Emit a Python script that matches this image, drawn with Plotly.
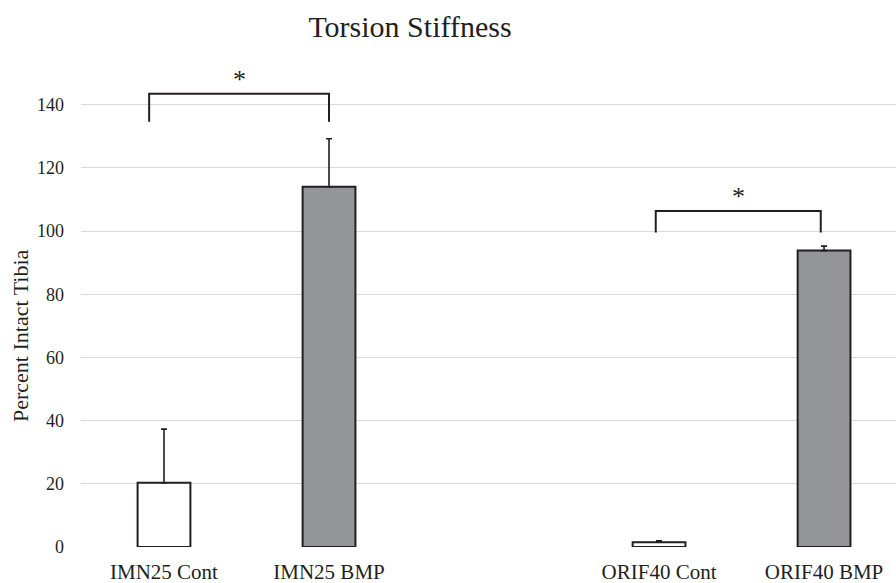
import plotly.graph_objects as go

categories = ["IMN25 Cont", "IMN25 BMP", " ", "ORIF40 Cont", "ORIF40 BMP"]
values = [20.3, 114.0, None, 1.5, 93.8]
err_plus = [17.0, 15.2, None, 0.5, 1.4]
err_minus = [0, 0, None, 0, 0]
bar_colors = ["#ffffff", "#939598", "#ffffff", "#ffffff", "#939598"]

# significance brackets: (x_left, x_right, y_bottom, y_top)
brackets = [(-0.09, 1.0, 134.6, 143.4), (2.98, 3.98, 99.5, 106.3)]
star_labels = ["*", "*"]

FONT = "Liberation Serif, Times New Roman, serif"

fig = go.Figure()
fig.add_trace(go.Bar(
    x=categories, y=values,
    marker=dict(color=bar_colors, line=dict(color="#231f20", width=2)),
    width=0.32,
    error_y=dict(type="data", symmetric=False, array=err_plus, arrayminus=err_minus,
                 color="#231f20", thickness=1.6, width=3),
    cliponaxis=False,
))

for (x0, x1, yb, yt), s in zip(brackets, star_labels):
    fig.add_shape(type="path",
                  path=f"M {x0},{yb} L {x0},{yt} L {x1},{yt} L {x1},{yb}",
                  xref="x", yref="y", line=dict(color="#231f20", width=2))
    fig.add_annotation(x=(x0 + x1) / 2, y=yt, xref="x", yref="y", text=s,
                       showarrow=False, yanchor="bottom", yshift=-2,
                       font=dict(family=FONT, size=26, color="#231f20"))

fig.add_annotation(text="Percent Intact Tibia", textangle=-90,
                   xref="paper", yref="paper", x=-0.075, y=0.447,
                   xanchor="center", yanchor="middle",
                   showarrow=False, font=dict(family=FONT, size=22, color="#231f20"))

fig.update_layout(
    width=896, height=583,
    margin=dict(l=81, r=0, t=73, b=36),
    paper_bgcolor="white", plot_bgcolor="white",
    showlegend=False,
    title=dict(text="Torsion Stiffness", x=410 / 896, xanchor="center",
               y=1 - 26 / 583, yanchor="middle", xref="container", yref="container",
               font=dict(family=FONT, size=30, color="#231f20")),
    xaxis=dict(type="category", categoryorder="array", categoryarray=categories,
               range=[-0.503, 4.436], showgrid=False, zeroline=False,
               showline=False, ticks="",
               tickfont=dict(family=FONT, size=21, color="#231f20"),
               ticklabelstandoff=10),
    yaxis=dict(range=[0, 150], tickvals=[0, 20, 40, 60, 80, 100, 120, 140],
               showgrid=True, gridcolor="#d9d9d9", gridwidth=1.3,
               zeroline=False, showline=False, ticks="",
               tickfont=dict(family=FONT, size=18, color="#231f20"),
               ticklabelstandoff=16),
)

fig.write_html("out.html")
